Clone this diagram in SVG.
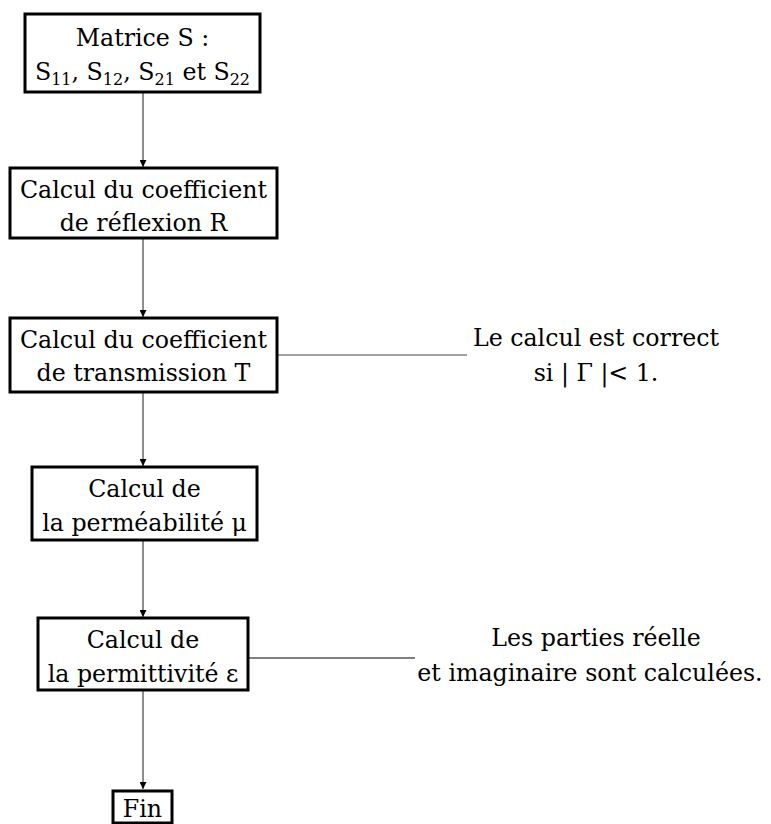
<svg xmlns="http://www.w3.org/2000/svg" width="771" height="824" viewBox="0 0 771 824">
<defs>
<marker id="ah" viewBox="0 0 10 10" refX="10" refY="5" markerWidth="7" markerHeight="7" markerUnits="userSpaceOnUse" orient="auto">
<path d="M0,0 L10,5 L0,10 z" fill="#000"/>
</marker>
</defs>
<style>
.box{fill:#fff;stroke:#000;stroke-width:3}
.t{font-family:"DejaVu Serif","Liberation Serif",serif;font-size:23.7px;fill:#000;text-anchor:middle}
.sub{font-size:16px}
.c{stroke:#444;stroke-width:1.2;fill:none}
</style>
<rect width="771" height="824" fill="#fff"/>
<g id="connectors">
<line class="c" x1="143" y1="92" x2="143" y2="167" marker-end="url(#ah)"/>
<line class="c" x1="143" y1="238" x2="143" y2="317" marker-end="url(#ah)"/>
<line class="c" x1="143" y1="392" x2="143" y2="466" marker-end="url(#ah)"/>
<line class="c" x1="143" y1="540" x2="143" y2="617" marker-end="url(#ah)"/>
<line class="c" x1="143" y1="690" x2="143" y2="789" marker-end="url(#ah)"/>
<line class="c" x1="277" y1="355" x2="467" y2="355"/>
<line class="c" x1="248" y1="658" x2="415" y2="658" style="stroke:#000"/>
</g>
<g id="n1">
<rect class="box" x="25" y="14" width="235" height="78"/>
<text class="t" x="142.5" y="46">Matrice S :</text>
<text class="t" x="142.5" y="80">S<tspan class="sub" dy="5">11</tspan><tspan dy="-5">, S</tspan><tspan class="sub" dy="5">12</tspan><tspan dy="-5">, S</tspan><tspan class="sub" dy="5">21</tspan><tspan dy="-5"> et S</tspan><tspan class="sub" dy="5">22</tspan></text>
</g>
<g id="n2">
<rect class="box" x="10" y="168" width="267" height="70"/>
<text class="t" x="143.5" y="198">Calcul du coefficient</text>
<text class="t" x="143.5" y="231">de réflexion R</text>
</g>
<g id="n3">
<rect class="box" x="10" y="318" width="267" height="74"/>
<text class="t" x="143.5" y="348">Calcul du coefficient</text>
<text class="t" x="143.5" y="381">de transmission T</text>
</g>
<g id="n4">
<rect class="box" x="32" y="467" width="225" height="73"/>
<text class="t" x="144.5" y="497">Calcul de</text>
<text class="t" x="144.5" y="531">la perméabilité μ</text>
</g>
<g id="n5">
<rect class="box" x="38" y="618" width="210" height="72"/>
<text class="t" x="143" y="648">Calcul de</text>
<text class="t" x="143" y="682">la permittivité ε</text>
</g>
<g id="n6">
<rect class="box" x="113" y="791" width="59" height="32"/>
<text class="t" x="142.5" y="817">Fin</text>
</g>
<g id="a1">
<text class="t" x="596" y="346">Le calcul est correct</text>
<text class="t" x="596" y="381">si | Γ |&lt; 1.</text>
</g>
<g id="a2">
<text class="t" x="596" y="646">Les parties réelle</text>
<text class="t" x="590" y="681">et imaginaire sont calculées.</text>
</g>
</svg>
